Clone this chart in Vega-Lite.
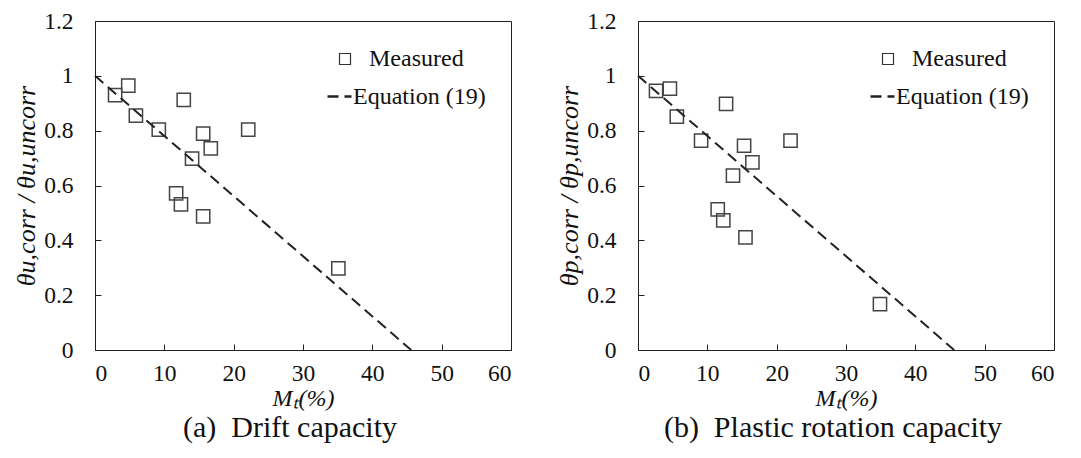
{
  "$schema": "https://vega.github.io/schema/vega-lite/v6.json",
  "padding": {"left": 13, "top": 8, "right": 2, "bottom": 2},
  "background": "white",
  "config": {
    "font": "Liberation Serif",
    "view": {"stroke": "#222", "strokeWidth": 1},
    "concat": {"spacing": 44},
    "axis": {
      "domainColor": "#222", "tickColor": "#222", "labelColor": "#111", "titleColor": "#111",
      "labelFont": "Liberation Serif", "titleFont": "Liberation Serif",
      "labelFontSize": 23.5, "titleFontSize": 24, "titleFontWeight": "normal",
      "grid": false, "tickSize": -6, "domainWidth": 1, "tickWidth": 1
    },
    "legend": {
      "labelFont": "Liberation Serif", "labelFontSize": 24, "labelColor": "#111", "padding": 0
    }
  },
  "datasets": {
    "drift": [
      {"mt": 2.9, "r": 0.93, "series": "Measured"},
      {"mt": 4.8, "r": 0.964, "series": "Measured"},
      {"mt": 5.9, "r": 0.855, "series": "Measured"},
      {"mt": 9.2, "r": 0.804, "series": "Measured"},
      {"mt": 12.8, "r": 0.912, "series": "Measured"},
      {"mt": 15.6, "r": 0.789, "series": "Measured"},
      {"mt": 16.7, "r": 0.735, "series": "Measured"},
      {"mt": 14.0, "r": 0.698, "series": "Measured"},
      {"mt": 22.1, "r": 0.804, "series": "Measured"},
      {"mt": 11.7, "r": 0.571, "series": "Measured"},
      {"mt": 12.4, "r": 0.531, "series": "Measured"},
      {"mt": 15.6, "r": 0.487, "series": "Measured"},
      {"mt": 35.1, "r": 0.298, "series": "Measured"}
    ],
    "plastic": [
      {"mt": 2.6, "r": 0.945, "series": "Measured"},
      {"mt": 4.6, "r": 0.953, "series": "Measured"},
      {"mt": 5.6, "r": 0.851, "series": "Measured"},
      {"mt": 9.1, "r": 0.764, "series": "Measured"},
      {"mt": 12.7, "r": 0.898, "series": "Measured"},
      {"mt": 15.3, "r": 0.745, "series": "Measured"},
      {"mt": 16.5, "r": 0.684, "series": "Measured"},
      {"mt": 13.7, "r": 0.636, "series": "Measured"},
      {"mt": 22.0, "r": 0.764, "series": "Measured"},
      {"mt": 11.5, "r": 0.513, "series": "Measured"},
      {"mt": 12.3, "r": 0.473, "series": "Measured"},
      {"mt": 15.5, "r": 0.411, "series": "Measured"},
      {"mt": 34.9, "r": 0.167, "series": "Measured"}
    ],
    "eqn": [
      {"mt": 0, "r": 1, "series": "Equation (19)"},
      {"mt": 45.6, "r": 0, "series": "Equation (19)"}
    ]
  },
  "hconcat": [
    {
      "width": 416, "height": 329,
      "title": {"text": "(a)\u00a0 Drift capacity", "orient": "bottom", "fontSize": 30, "fontWeight": "normal", "font": "Liberation Serif", "color": "#111", "offset": 2, "dx": -13},
      "layer": [
        {
          "data": {"name": "drift"},
          "mark": {"type": "point", "shape": "square", "filled": false, "size": 175, "stroke": "#444", "strokeWidth": 1.5, "opacity": 1},
          "encoding": {
            "x": {"field": "mt", "type": "quantitative", "scale": {"domain": [0, 60], "nice": false},
                  "axis": {"values": [0, 10, 20, 30, 40, 50, 60], "title": "Mₜ(%)", "labelPadding": 17, "titlePadding": 2, "titleFontStyle": "italic"}},
            "y": {"field": "r", "type": "quantitative", "scale": {"domain": [0, 1.2], "nice": false},
                  "axis": {"values": [0, 0.2, 0.4, 0.6, 0.8, 1, 1.2], "format": "~g", "title": "θu,corr / θu,uncorr", "titleFontStyle": "italic", "titleFontSize": 26, "labelPadding": 28, "titlePadding": 4}},
            "shape": {"field": "series", "type": "nominal", "scale": {"range": ["square"]},
                      "legend": {"orient": "none", "legendX": 238, "legendY": 26, "title": null, "symbolSize": 121, "symbolStrokeWidth": 1.2, "symbolFillColor": "transparent", "symbolStrokeColor": "#333", "labelOffset": 12}}
          }
        },
        {
          "data": {"name": "eqn"},
          "mark": {"type": "line", "stroke": "#222", "strokeWidth": 2},
          "encoding": {
            "x": {"field": "mt", "type": "quantitative"},
            "y": {"field": "r", "type": "quantitative"},
            "strokeDash": {"field": "series", "type": "nominal", "scale": {"range": [[11, 6]]},
                           "legend": {"orient": "none", "legendX": 231, "legendY": 62, "title": null, "symbolType": "stroke", "symbolSize": 576, "symbolStrokeWidth": 2.5, "symbolStrokeColor": "#222", "symbolDash": [14, 4, 4, 20], "labelOffset": 0}}
          }
        }
      ]
    },
    {
      "width": 416, "height": 329,
      "title": {"text": "(b)\u00a0 Plastic rotation capacity", "orient": "bottom", "fontSize": 30, "fontWeight": "normal", "font": "Liberation Serif", "color": "#111", "offset": 2, "dx": -13},
      "layer": [
        {
          "data": {"name": "plastic"},
          "mark": {"type": "point", "shape": "square", "filled": false, "size": 175, "stroke": "#444", "strokeWidth": 1.5, "opacity": 1},
          "encoding": {
            "x": {"field": "mt", "type": "quantitative", "scale": {"domain": [0, 60], "nice": false},
                  "axis": {"values": [0, 10, 20, 30, 40, 50, 60], "title": "Mₜ(%)", "labelPadding": 17, "titlePadding": 2, "titleFontStyle": "italic"}},
            "y": {"field": "r", "type": "quantitative", "scale": {"domain": [0, 1.2], "nice": false},
                  "axis": {"values": [0, 0.2, 0.4, 0.6, 0.8, 1, 1.2], "format": "~g", "title": "θp,corr / θp,uncorr", "titleFontStyle": "italic", "titleFontSize": 26, "labelPadding": 28, "titlePadding": 4}},
            "shape": {"field": "series", "type": "nominal", "scale": {"range": ["square"]},
                      "legend": {"orient": "none", "legendX": 238, "legendY": 26, "title": null, "symbolSize": 121, "symbolStrokeWidth": 1.2, "symbolFillColor": "transparent", "symbolStrokeColor": "#333", "labelOffset": 12}}
          }
        },
        {
          "data": {"name": "eqn"},
          "mark": {"type": "line", "stroke": "#222", "strokeWidth": 2},
          "encoding": {
            "x": {"field": "mt", "type": "quantitative"},
            "y": {"field": "r", "type": "quantitative"},
            "strokeDash": {"field": "series", "type": "nominal", "scale": {"range": [[11, 6]]},
                           "legend": {"orient": "none", "legendX": 231, "legendY": 62, "title": null, "symbolType": "stroke", "symbolSize": 576, "symbolStrokeWidth": 2.5, "symbolStrokeColor": "#222", "symbolDash": [14, 4, 4, 20], "labelOffset": 0}}
          }
        }
      ]
    }
  ],
  "resolve": {
    "scale": {"shape": "independent", "strokeDash": "independent"},
    "legend": {"shape": "independent", "strokeDash": "independent"}
  }
}
